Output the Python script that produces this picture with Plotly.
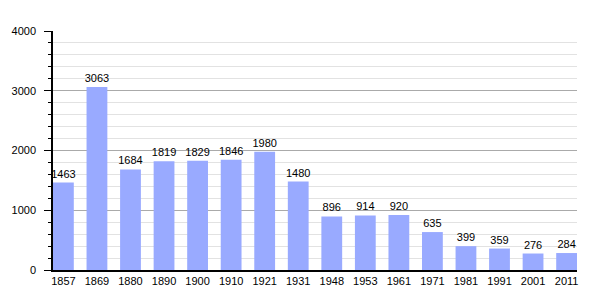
import plotly.graph_objects as go

years = ["1857", "1869", "1880", "1890", "1900", "1910", "1921", "1931",
         "1948", "1953", "1961", "1971", "1981", "1991", "2001", "2011"]
population = [1463, 3063, 1684, 1819, 1829, 1846, 1980, 1480,
              896, 914, 920, 635, 399, 359, 276, 284]

fig = go.Figure(go.Bar(
    x=years, y=population,
    marker=dict(color="#99aaff", line=dict(width=0)),
    text=[str(v) for v in population],
    textposition="outside",
    constraintext="none",
    textfont=dict(family="Liberation Sans, Arial, sans-serif", size=11, color="black"),
    cliponaxis=False,
    width=0.62,
))

fig.update_layout(
    width=605, height=300,
    margin=dict(l=50, r=28, t=31, b=30),
    paper_bgcolor="white", plot_bgcolor="white",
    font=dict(family="Liberation Sans, Arial, sans-serif", size=11, color="black"),
    showlegend=False,
)
fig.update_xaxes(
    type="category", range=[-0.31, 15.31],
    showline=True, linecolor="black", linewidth=1.5,
    ticks="", showgrid=False, tickfont=dict(size=11),
)
fig.update_yaxes(
    range=[0, 4000], dtick=1000,
    showline=True, linecolor="black", linewidth=1.5,
    ticks="outside", ticklen=7, tickcolor="black",
    showgrid=True, gridcolor="#aaaaaa", gridwidth=1,
    zeroline=False,
    minor=dict(dtick=200, showgrid=True, gridcolor="#e2e2e2", gridwidth=1,
               ticks="outside", ticklen=3, tickcolor="black"),
    tickfont=dict(size=11),
    ticklabelstandoff=6,
)

fig.write_html("out.html")
